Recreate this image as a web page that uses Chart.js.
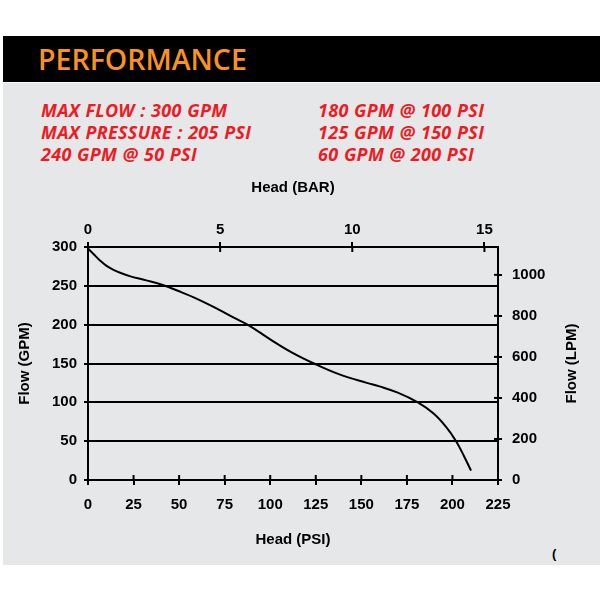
<!DOCTYPE html>
<html>
<head>
<meta charset="utf-8">
<title>Performance</title>
<script src="https://cdn.jsdelivr.net/npm/chart.js@4.4.1/dist/chart.umd.min.js"></script>
<style>
  body { margin: 0; background: #fff; width: 600px; height: 600px; position: relative; overflow: hidden; }
  #header { position: absolute; left: 3px; top: 36px; width: 597px; height: 46px; background: #000; }
  #header h1 { margin: 0; position: absolute; left: 35px; top: 4px; font: 600 28.5px "Open Sans", sans-serif; color: #f7931e; }
  #panel { position: absolute; left: 3px; top: 83px; width: 597px; height: 482px; background: #e6e7e8; }
  .specs { position: absolute; top: 16px; font: italic 700 18px/22px "Open Sans", sans-serif; letter-spacing: 0.3px; word-spacing: 0.5px; color: #ed1c24; }
  .stray { position: absolute; left: 549px; top: 463px; font: bold 13px "Liberation Sans", sans-serif; color: #000; }
  #chartBox { position: absolute; left: 0; top: 170px; width: 600px; height: 400px; }
</style>
</head>
<body>
<div id="header"><h1>PERFORMANCE</h1></div>
<div id="panel">
  <div class="specs" style="left:38px">MAX FLOW : 300 GPM<br>MAX PRESSURE : 205 PSI<br>240 GPM @ 50 PSI</div>
  <div class="specs" style="left:315px">180 GPM @ 100 PSI<br>125 GPM @ 150 PSI<br>60 GPM @ 200 PSI</div>
  <div class="stray">(</div>
</div>
<div id="chartBox"><canvas id="chart" width="600" height="400"></canvas></div>

<script>
// pump curve: head (psi) vs flow (gpm)
const headPsi = [0, 3, 6.4, 10, 13.7, 18, 22.9, 32, 41, 50, 61, 72, 80, 88, 100, 112,
  124, 138, 153, 160, 170, 181, 189.5, 196.5, 202, 206.5, 210.2];
const flowGpm = [298, 291, 283, 276, 271, 266.5, 262.5, 257, 251, 243, 232, 219, 209, 199.5, 181, 164,
  150, 136, 125, 120.5, 112.5, 100, 86, 68.5, 50, 30, 12];

const psiTicks = [0, 25, 50, 75, 100, 125, 150, 175, 200, 225];
const gpmTicks = [0, 50, 100, 150, 200, 250, 300];
const barTicks = [0, 5, 10, 15];
const lpmTicks = [0, 200, 400, 600, 800, 1000];

const PSI_PER_BAR = 14.5038;
const LPM_PER_GPM = 3.78541;

const tickFont = { family: '"Liberation Sans", Arial, sans-serif', size: 15, weight: 'bold' };
const titleFont = { family: '"Liberation Sans", Arial, sans-serif', size: 15, weight: 'bold' };

const setTicks = list => scale => { scale.ticks = list.map(v => ({ value: v })); };
const plain = v => String(v);

// the tick marks in the reference cross the axis line, chart.js only draws the outer half
const crossTicks = {
  id: 'crossTicks',
  afterDatasetsDraw(chart) {
    const { ctx, scales, chartArea } = chart;
    ctx.save();
    ctx.strokeStyle = '#000';
    ctx.lineWidth = 2;
    scales.x.ticks.forEach(t => {
      const px = scales.x.getPixelForValue(t.value);
      ctx.beginPath(); ctx.moveTo(px, chartArea.bottom); ctx.lineTo(px, chartArea.bottom - 5); ctx.stroke();
    });
    scales.x2.ticks.forEach(t => {
      const px = scales.x2.getPixelForValue(t.value);
      ctx.beginPath(); ctx.moveTo(px, chartArea.top); ctx.lineTo(px, chartArea.top + 5); ctx.stroke();
    });
    scales.y2.ticks.forEach(t => {
      const py = scales.y2.getPixelForValue(t.value);
      ctx.beginPath(); ctx.moveTo(chartArea.right, py); ctx.lineTo(chartArea.right - 4, py); ctx.stroke();
    });
    // right axis title reads bottom to top like the left one
    ctx.translate(scales.y2.right - 28, (chartArea.top + chartArea.bottom) / 2);
    ctx.rotate(-Math.PI / 2);
    ctx.fillStyle = '#000';
    ctx.font = 'bold 15px "Liberation Sans", Arial, sans-serif';
    ctx.textAlign = 'center';
    ctx.textBaseline = 'middle';
    ctx.fillText('Flow (LPM)', 0, 0);
    ctx.restore();
  }
};

new Chart(document.getElementById('chart'), {
  type: 'line',
  data: {
    datasets: [{
      data: headPsi.map((h, i) => ({ x: h, y: flowGpm[i] })),
      borderColor: '#000',
      borderWidth: 2,
      pointRadius: 0,
      tension: 0.4,
      fill: false
    }]
  },
  options: {
    responsive: false,
    animation: false,
    layout: { padding: 0 },
    plugins: { legend: { display: false }, tooltip: { enabled: false } },
    scales: {
      x: {
        type: 'linear', position: 'bottom', min: 0, max: 225,
        afterBuildTicks: setTicks(psiTicks),
        afterFit: s => { s.height = 90; },
        grid: { drawOnChartArea: false, color: '#000', lineWidth: 2, tickLength: 5 },
        border: { color: '#000', width: 2 },
        ticks: { color: '#000', font: tickFont, padding: 11, maxRotation: 0, autoSkip: false, callback: plain },
        title: { display: true, text: 'Head (PSI)', color: '#000', font: titleFont, padding: { top: 0, bottom: 21 } }
      },
      x2: {
        type: 'linear', position: 'top', min: 0, max: 225 / PSI_PER_BAR,
        afterBuildTicks: setTicks(barTicks),
        afterFit: s => { s.height = 77; },
        grid: { drawOnChartArea: false, color: '#000', lineWidth: 2, tickLength: 5 },
        border: { color: '#000', width: 2 },
        ticks: { color: '#000', font: tickFont, padding: 3, maxRotation: 0, autoSkip: false, callback: plain },
        title: { display: true, text: 'Head (BAR)', color: '#000', font: titleFont, padding: { top: 9, bottom: 0 } }
      },
      y: {
        type: 'linear', position: 'left', min: 0, max: 300,
        afterBuildTicks: setTicks(gpmTicks),
        afterFit: s => { s.width = 88; },
        grid: { color: '#000', lineWidth: 2, tickLength: 4 },
        border: { color: '#000', width: 2 },
        ticks: { color: '#000', font: tickFont, padding: 7, autoSkip: false, callback: plain },
        title: { display: true, text: 'Flow (GPM)', color: '#000', font: titleFont, padding: { top: 16, bottom: 0 } }
      },
      y2: {
        type: 'linear', position: 'right', min: 0, max: 300 * LPM_PER_GPM,
        afterBuildTicks: setTicks(lpmTicks),
        afterFit: s => { s.width = 102; },
        grid: { drawOnChartArea: false, color: '#000', lineWidth: 2, tickLength: 4 },
        border: { color: '#000', width: 2 },
        ticks: { color: '#000', font: tickFont, padding: 10, autoSkip: false, callback: plain }
      }
    }
  },
  plugins: [crossTicks]
});
</script>
</body>
</html>
